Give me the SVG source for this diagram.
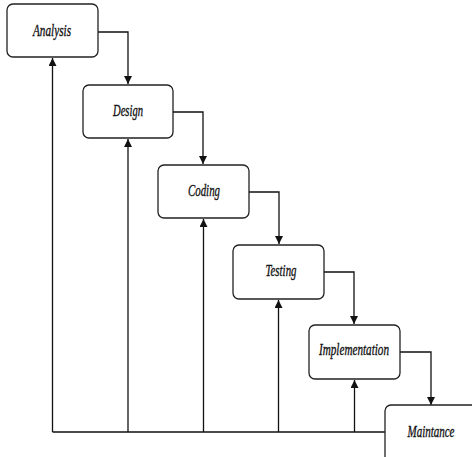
<svg xmlns="http://www.w3.org/2000/svg" width="472" height="457" viewBox="0 0 472 457">
<style>
.box{fill:#fff;stroke:#222;stroke-width:1.3}
.lbl{font-family:"Liberation Serif",serif;font-style:italic;font-size:17px;fill:#111;stroke:#111;stroke-width:0.35;text-anchor:middle}
.ln{fill:none;stroke:#111;stroke-width:1.3}
</style>
<defs>
<marker id="ah" viewBox="0 0 10 10" refX="10" refY="5" markerWidth="8" markerHeight="8" markerUnits="userSpaceOnUse" orient="auto">
<path d="M0,0 L10,5 L0,10 Z" fill="#111"/>
</marker>
</defs>
<rect width="472" height="457" fill="#fff"/>
<g id="connectors">
<path class="ln" d="M98,32 H128 V84" marker-end="url(#ah)"/>
<path class="ln" d="M173,112 H203 V164" marker-end="url(#ah)"/>
<path class="ln" d="M249,192 H279 V244" marker-end="url(#ah)"/>
<path class="ln" d="M324,272 H354 V324" marker-end="url(#ah)"/>
<path class="ln" d="M400,352 H431 V405" marker-end="url(#ah)"/>
<path class="ln" d="M385,432 H52.5"/>
<path class="ln" d="M52.5,432 V58" marker-end="url(#ah)"/>
<path class="ln" d="M128,432 V139" marker-end="url(#ah)"/>
<path class="ln" d="M203.5,432 V219" marker-end="url(#ah)"/>
<path class="ln" d="M278.5,432 V300" marker-end="url(#ah)"/>
<path class="ln" d="M354.5,432 V380" marker-end="url(#ah)"/>
</g>
<g id="analysis">
<rect class="box" x="7" y="4" width="91" height="53" rx="6"/>
<text class="lbl" x="52" y="36" textLength="38" lengthAdjust="spacingAndGlyphs">Analysis</text>
</g>
<g id="design">
<rect class="box" x="83" y="85" width="90" height="53" rx="6"/>
<text class="lbl" x="128" y="116" textLength="30" lengthAdjust="spacingAndGlyphs">Design</text>
</g>
<g id="coding">
<rect class="box" x="158" y="165" width="91" height="53" rx="6"/>
<text class="lbl" x="204" y="196" textLength="32" lengthAdjust="spacingAndGlyphs">Coding</text>
</g>
<g id="testing">
<rect class="box" x="233" y="245" width="91" height="54" rx="6"/>
<text class="lbl" x="281" y="276" textLength="31" lengthAdjust="spacingAndGlyphs">Testing</text>
</g>
<g id="implementation">
<rect class="box" x="309" y="325" width="91" height="54" rx="6"/>
<text class="lbl" x="354" y="355" textLength="70" lengthAdjust="spacingAndGlyphs">Implementation</text>
</g>
<g id="maintance">
<rect class="box" x="385" y="405" width="100" height="60" rx="6"/>
<text class="lbl" x="431" y="437" textLength="47" lengthAdjust="spacingAndGlyphs">Maintance</text>
</g>
</svg>
